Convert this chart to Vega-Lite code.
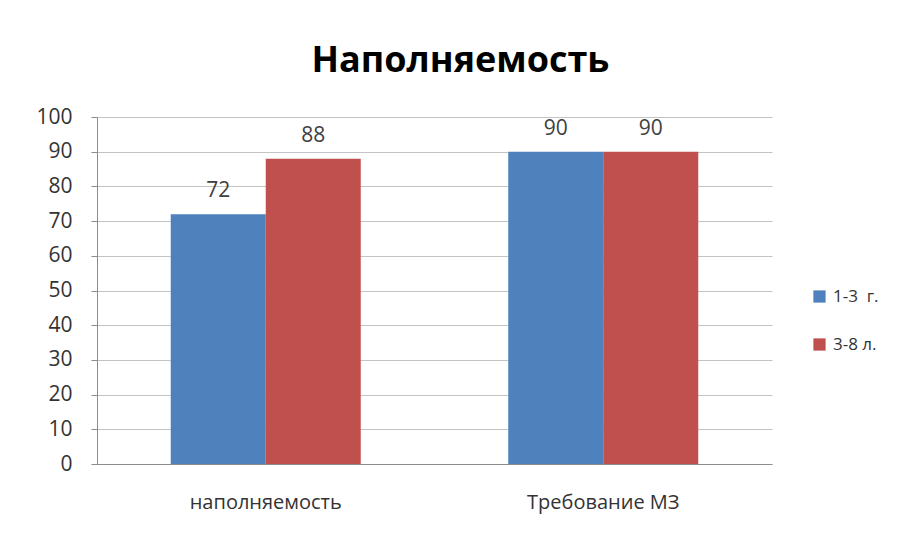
{
  "$schema": "https://vega.github.io/schema/vega-lite/v6.json",
  "autosize": "none",
  "width": 675,
  "height": 347,
  "padding": {"left": 97, "top": 117, "right": 130, "bottom": 72},
  "background": "white",
  "config": {"view": {"stroke": null}, "font": "Open Sans"},
  "title": {"text": "Наполняемость", "fontSize": 36, "fontWeight": "bold", "font": "Open Sans", "color": "#000000", "anchor": "middle", "dx": 26, "offset": 26},
  "data": {"values": [
    {"category": "наполняемость", "group": "1-3\u00a0 г.", "value": 72},
    {"category": "наполняемость", "group": "3-8 л.", "value": 88},
    {"category": "Требование МЗ", "group": "1-3\u00a0 г.", "value": 90},
    {"category": "Требование МЗ", "group": "3-8 л.", "value": 90}
  ]},
  "encoding": {
    "x": {"field": "category", "type": "nominal", "sort": ["наполняемость", "Требование МЗ"],
      "scale": {"paddingInner": 0.437, "paddingOuter": 0.2185},
      "axis": {"title": null, "labelAngle": 0, "labelFontSize": 20, "labelColor": "#333333", "labelPadding": 28, "ticks": false, "domainColor": "#8c8c8c", "labelFont": "Open Sans"}},
    "xOffset": {"field": "group", "type": "nominal", "sort": ["1-3\u00a0 г.", "3-8 л."], "scale": {"paddingInner": 0, "paddingOuter": 0}},
    "y": {"field": "value", "type": "quantitative",
      "scale": {"domain": [0, 100], "nice": false},
      "axis": {"title": null, "values": [0,10,20,30,40,50,60,70,80,90,100], "labelFontSize": 21, "labelColor": "#333333", "labelPadding": 19, "tickSize": 6, "tickColor": "#8c8c8c", "domainColor": "#8c8c8c", "gridColor": "#c4c4c4", "labelFont": "Open Sans"}}
  },
  "layer": [
    {"mark": {"type": "bar"},
     "encoding": {"color": {"field": "group", "type": "nominal", "sort": ["1-3\u00a0 г.", "3-8 л."],
       "scale": {"domain": ["1-3\u00a0 г.", "3-8 л."], "range": ["#4F81BD", "#C0504D"]},
       "legend": {"title": null, "orient": "none", "legendX": 714, "legendY": 171, "symbolType": "square", "symbolSize": 150, "labelFontSize": 17, "labelColor": "#333333", "rowPadding": 30, "labelOffset": 5, "labelFont": "Open Sans", "symbolStrokeWidth": 0}}}},
    {"mark": {"type": "text", "dy": -23, "fontSize": 21, "color": "#404040", "font": "Open Sans"},
     "encoding": {"text": {"field": "value", "type": "quantitative"}}}
  ]
}
